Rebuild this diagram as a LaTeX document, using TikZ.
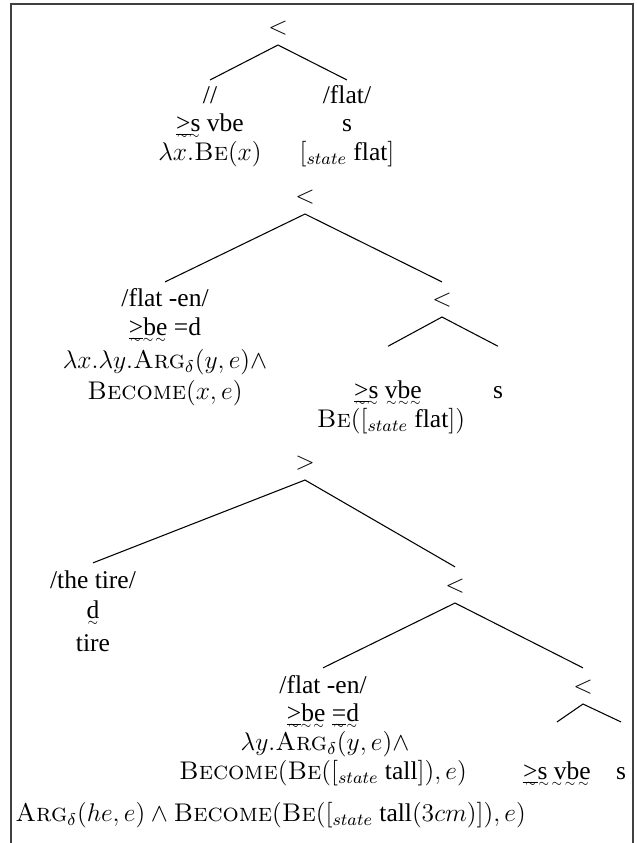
\documentclass[tikz,border=0pt]{standalone}
\usepackage{amsmath}
\usepackage{fontspec}
\newfontfamily\tnr{Liberation Serif}[Ligatures=TeX]
\newcommand{\fw}[1]{\setbox0=\hbox{#1}\rlap{\lower3.5pt\hbox to \wd0{\xleaders\hbox{\fontsize{5}{6}\selectfont$\sim$}\hfill}}\box0\relax}
\newcommand{\scp}[1]{\textnormal{\scshape #1}}
\tikzset{
  lbl/.style={font=\tnr\fontsize{12}{14.5}\selectfont, inner sep=0pt, text height=8.5pt, text depth=2.5pt},
  branch/.style={line width=0.5pt},
  frame/.style={line width=0.7pt, draw=black!75}
}

\begin{document}
\begin{tikzpicture}[x=0.47pt, y=-0.47pt]
\useasboundingbox (0,0) rectangle (637,843);
\draw[frame] (11,843) -- (11,4) -- (633,4) -- (633,843);

% be + flat
\node[lbl] (op1) at (278,28) {$<$};
\node[lbl] (l1) at (210,97) {//};
\node[lbl] (l1f) at (210,125) {\fw{\underline{>}s} vbe};
\node[lbl] (l1s) at (210,154) {$\lambda x.\scp{Be}(x)$};
\node[lbl] (r1) at (347,97) {/flat/};
\node[lbl] (r1f) at (347,125) {\fw{s}};
\node[lbl] (r1s) at (347,154) {$[_{state}$ flat$]$};
\draw[branch] ([yshift=8pt]l1.center) -- ([yshift=-8pt]op1.center) -- ([yshift=8pt]r1.center);

% -en + state
\node[lbl] (op2) at (305,197) {$<$};
\node[lbl] (l2) at (165,300) {/flat -en/};
\node[lbl] (l2f) at (165,329) {\fw{\underline{>}be} =d};
\node[lbl] (l2s) at (165,362) {$\lambda x.\lambda y.\scp{Arg}_\delta(y,e)\wedge$};
\node[lbl] (l2t) at (165,393) {$\scp{Become}(x,e)$};
\node[lbl] (op3) at (442,300) {$<$};
\node[lbl] (l3f) at (388,392) {\fw{\underline{>}s} \fw{vbe}};
\node[lbl] (l3s) at (391,421) {$\scp{Be}([_{state}$ flat$])$};
\node[lbl] (r3f) at (498,392) {\fw{s}};
\draw[branch] ([yshift=8.5pt]l2.center) -- ([yshift=-8pt]op2.center) -- ([yshift=8.5pt]op3.center);
\draw[branch] ([yshift=21.5pt]l3f.center) -- ([yshift=-8pt]op3.center) -- ([yshift=21.5pt]r3f.center);

% the tire + flat -en
\node[lbl] (op4) at (305,463) {$>$};
\node[lbl] (l4) at (93,582) {/the tire/};
\node[lbl] (l4f) at (93,612) {\fw{d}};
\node[lbl] (l4s) at (93,645) {tire};
\node[lbl] (op5) at (455,586) {$<$};
\draw[branch] ([yshift=9pt]l4.center) -- ([yshift=-8pt]op4.center) -- ([yshift=9pt]op5.center);

\node[lbl] (l5) at (323,687) {/flat -en/};
\node[lbl] (l5f) at (323,715) {\fw{\underline{>}be} \fw{\underline{=}d}};
\node[lbl] (l5s) at (325,744) {$\lambda y.\scp{Arg}_\delta(y,e)\wedge$};
\node[lbl] (l5t) at (323,773) {$\scp{Become}(\scp{Be}([_{state}$ tall$]),e)$};
\node[lbl] (op6) at (583,687) {$<$};
\node[lbl] (l6f) at (557,773) {\fw{\underline{>}s vbe}};
\node[lbl] (r6f) at (621,773) {\fw{s}};
\draw[branch] ([yshift=9pt]l5.center) -- ([yshift=-8pt]op5.center) -- ([yshift=9pt]op6.center);
\draw[branch] ([yshift=24pt]l6f.center) -- ([yshift=-8pt]op6.center) -- ([yshift=24pt]r6f.center);

% result
\node[lbl, anchor=west] (res) at (15,815) {$\scp{Arg}_\delta(he,e)\wedge\scp{Become}(\scp{Be}([_{state}$ tall$(3cm)]),e)$};
\end{tikzpicture}
\end{document}
